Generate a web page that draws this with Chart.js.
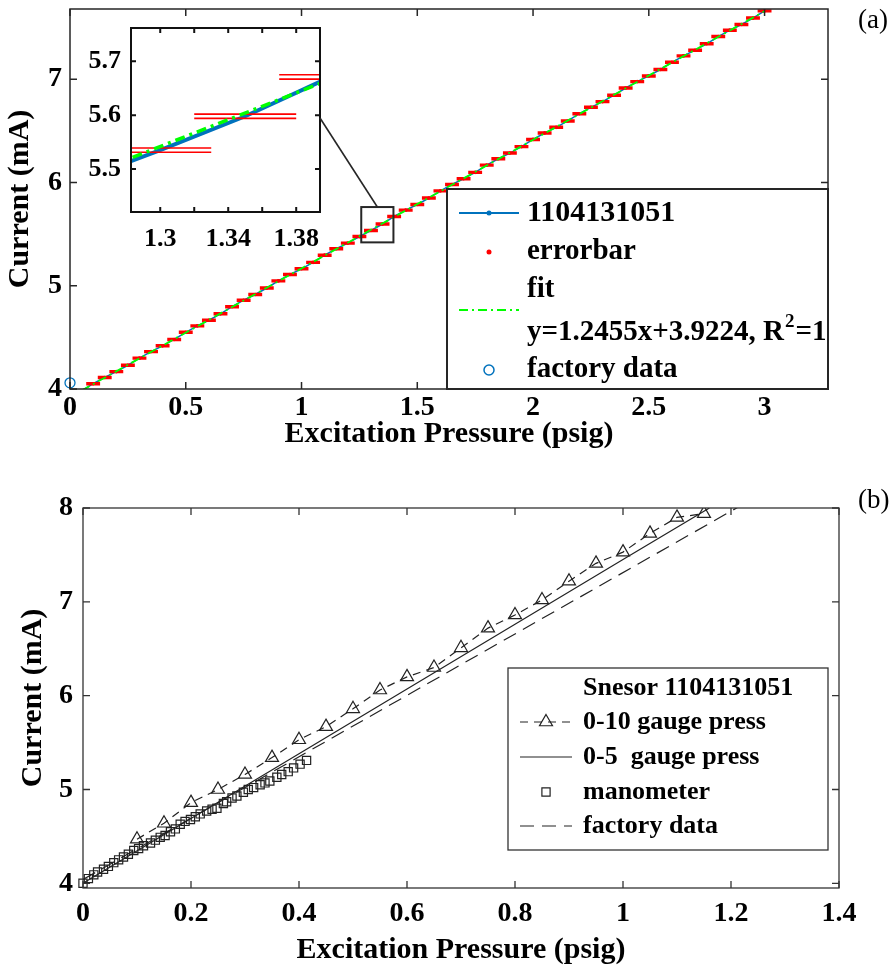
<!DOCTYPE html>
<html>
<head>
<meta charset="utf-8">
<title>Current vs Excitation Pressure</title>
<script src="https://cdn.jsdelivr.net/npm/chart.js@4.4.1/dist/chart.umd.min.js"></script>
<style>
  html, body { margin: 0; padding: 0; background: #ffffff; }
  #fig { position: relative; width: 895px; height: 975px; overflow: hidden; background: #ffffff; }
  #fig canvas { position: absolute; }
  .tag { position: absolute; font-family: "Liberation Serif", "Times New Roman", serif; font-size: 27px; color: #000; line-height: 1; }
</style>
</head>
<body>
<div id="fig">
  <canvas id="chartA" width="895" height="455" style="left:0;top:0;width:895px;height:455px"></canvas>
  <canvas id="chartInset" width="340" height="260" style="left:70px;top:15px;width:340px;height:260px"></canvas>
  <canvas id="chartB" width="895" height="520" style="left:0;top:455px;width:895px;height:520px"></canvas>
  <div class="tag" style="left:858px;top:6px">(a)</div>
  <div class="tag" style="left:858px;top:486px">(b)</div>
</div>
<script>
// ===================== DATA : panel (a) =====================
const pressureA = [0.05,0.10,0.15,0.20,0.25,0.30,0.35,0.40,0.45,0.50,
                   0.55,0.60,0.65,0.70,0.75,0.80,0.85,0.90,0.95,1.00,
                   1.05,1.10,1.15,1.20,1.25,1.30,1.35,1.40,1.45,1.50,
                   1.55,1.60,1.65,1.70,1.75,1.80,1.85,1.90,1.95,2.00,
                   2.05,2.10,2.15,2.20,2.25,2.30,2.35,2.40,2.45,2.50,
                   2.55,2.60,2.65,2.70,2.75,2.80,2.85,2.90,2.95,3.00];
const currentA = [3.982,4.051,4.112,4.168,4.230,4.299,4.362,4.418,4.480,4.549,
                  4.611,4.666,4.728,4.797,4.860,4.915,4.978,5.047,5.109,5.164,
                  5.226,5.296,5.358,5.413,5.476,5.535,5.598,5.671,5.732,5.787,
                  5.849,5.919,5.981,6.036,6.098,6.168,6.230,6.285,6.347,6.417,
                  6.479,6.534,6.596,6.666,6.728,6.783,6.845,6.915,6.977,7.032,
                  7.094,7.164,7.226,7.281,7.343,7.413,7.475,7.530,7.592,7.662];
const errXA = 0.03;     // half width of the error bars (psig)
const errYA = 0.004;    // half height of the error bars (mA)
const fitX = [0.05, 3.00];
const fitY = [3.985, 7.659];
const factoryAX = [0];
const factoryAY = [4.06];
const xTicksA = [0, 0.5, 1, 1.5, 2, 2.5, 3];
const xTickLabelsA = ['0', '0.5', '1', '1.5', '2', '2.5', '3'];
const yTicksA = [4, 5, 6, 7];
const yTickLabelsA = ['4', '5', '6', '7'];
const insetXTicks = [1.30, 1.32, 1.34, 1.36, 1.38];
const insetXLabels = ['1.3', '', '1.34', '', '1.38'];
const insetYTicks = [5.5, 5.6, 5.7];
const insetYLabels = ['5.5', '5.6', '5.7'];
const legendTextA = ['1104131051', 'errorbar', 'fit', 'y=1.2455x+3.9224, R', '2', '=1', 'factory data'];

// ===================== DATA : panel (b) =====================
const gauge10X = [0.10,0.15,0.20,0.25,0.30,0.35,0.40,0.45,0.50,0.55,0.60,
                  0.65,0.70,0.75,0.80,0.85,0.90,0.95,1.00,1.05,1.10,1.15];
const gauge10Y = [4.47,4.64,4.86,5.00,5.16,5.34,5.53,5.67,5.86,6.06,6.20,
                  6.30,6.51,6.72,6.86,7.02,7.22,7.41,7.53,7.73,7.90,7.94];
const gauge5X = [0, 0.2, 0.4, 0.6, 0.8, 1.0, 1.16];
const gauge5Y = [4.00, 4.69, 5.38, 6.07, 6.76, 7.45, 8.00];
const manoX = [0.000,0.010,0.020,0.027,0.038,0.047,0.057,0.066,0.075,0.084,0.094,
               0.103,0.112,0.125,0.134,0.143,0.152,0.162,0.171,0.180,0.189,0.199,
               0.208,0.217,0.229,0.239,0.248,0.260,0.266,0.276,0.285,0.297,0.306,
               0.316,0.328,0.337,0.346,0.359,0.368,0.380,0.390,0.402,0.414];
const manoY = [4.00,4.05,4.09,4.12,4.15,4.18,4.22,4.25,4.28,4.31,4.35,
               4.37,4.40,4.43,4.46,4.49,4.51,4.55,4.58,4.63,4.66,4.68,
               4.71,4.74,4.77,4.79,4.80,4.85,4.87,4.91,4.93,4.97,5.00,
               5.02,5.05,5.07,5.09,5.13,5.16,5.19,5.23,5.27,5.31];
const factoryBX = [0, 1.25];
const factoryBY = [4.04, 8.13];
const xTicksB = [0, 0.2, 0.4, 0.6, 0.8, 1, 1.2, 1.4];
const xTickLabelsB = ['0', '0.2', '0.4', '0.6', '0.8', '1', '1.2', '1.4'];
const yTicksB = [4, 5, 6, 7, 8];
const yTickLabelsB = ['4', '5', '6', '7', '8'];
const legendTextB = ['Snesor 1104131051', '0-10 gauge press', '0-5  gauge press', 'manometer', 'factory data'];

// ===================== helpers =====================
const SERIF = '"Liberation Serif", "Times New Roman", serif';
Chart.defaults.font.family = SERIF;
Chart.defaults.color = '#000';
Chart.defaults.animation = false;

const INSET_LEFT = 70, INSET_TOP = 15;
const zoomBoxX = [1.258, 1.397];
const zoomBoxY = [5.42, 5.762];

function pts(xs, ys) { return xs.map((x, i) => ({ x: x, y: ys[i] })); }

function axis(o) {
  return {
    type: 'linear', min: o.min, max: o.max, position: o.position,
    afterBuildTicks: s => { s.ticks = o.ticks.map(v => ({ value: v })); },
    afterFit: s => {
      if (o.position === 'left') s.width = o.size; else s.height = o.size;
      s.paddingTop = 0; s.paddingBottom = 0; s.paddingLeft = 0; s.paddingRight = 0;
    },
    grid: { display: false, drawTicks: false },
    border: { display: false },
    ticks: {
      autoSkip: false, maxRotation: 0, minRotation: 0, padding: o.pad, color: '#000',
      font: { family: SERIF, size: o.fontSize, weight: 'bold' },
      callback: (v, i) => o.labels[i]
    },
    title: o.title ? {
      display: true, text: o.title, color: '#000',
      font: { family: SERIF, size: o.titleSize, weight: 'bold', lineHeight: 1.2 },
      padding: o.titlePad
    } : { display: false }
  };
}

function txt(ctx, s, x, y, size) {
  ctx.font = 'bold ' + size + 'px ' + SERIF;
  ctx.textBaseline = 'middle';
  ctx.textAlign = 'left';
  ctx.fillStyle = '#000';
  ctx.fillText(s, x, y);
  return ctx.measureText(s).width;
}

// axes box with inward ticks on all four sides (MATLAB style)
const boxPlugin = {
  id: 'box',
  afterDatasetsDraw(chart, args, o) {
    const { ctx, chartArea: a, scales } = chart;
    const L = o.len;
    ctx.save();
    ctx.strokeStyle = o.color;
    ctx.lineWidth = o.width;
    ctx.setLineDash([]);
    ctx.beginPath();
    scales.x.ticks.forEach(t => {
      const p = scales.x.getPixelForValue(t.value);
      ctx.moveTo(p, a.bottom); ctx.lineTo(p, a.bottom - L);
      ctx.moveTo(p, a.top); ctx.lineTo(p, a.top + L);
    });
    scales.y.ticks.forEach(t => {
      const p = scales.y.getPixelForValue(t.value);
      ctx.moveTo(a.left, p); ctx.lineTo(a.left + L, p);
      ctx.moveTo(a.right, p); ctx.lineTo(a.right - L, p);
    });
    ctx.stroke();
    ctx.strokeRect(a.left, a.top, a.right - a.left, a.bottom - a.top);
    ctx.restore();
  }
};

// horizontal error-bar pairs for one dataset
const errPlugin = {
  id: 'errbars',
  afterDatasetDraw(chart, args, o) {
    if (args.index !== o.index) return;
    const { ctx, chartArea: a, scales: { x, y } } = chart;
    const data = chart.data.datasets[o.index].data;
    ctx.save();
    ctx.beginPath();
    ctx.rect(a.left, a.top, a.right - a.left, a.bottom - a.top);
    ctx.clip();
    ctx.strokeStyle = o.color;
    ctx.lineWidth = o.width;
    ctx.beginPath();
    data.forEach(p => {
      const x1 = x.getPixelForValue(p.x - o.xErr), x2 = x.getPixelForValue(p.x + o.xErr);
      [p.y - o.yErr, p.y + o.yErr].forEach(v => {
        const py = y.getPixelForValue(v);
        ctx.moveTo(x1, py); ctx.lineTo(x2, py);
      });
    });
    ctx.stroke();
    ctx.restore();
  }
};

// zoom rectangle on panel (a)
const zoomRectPlugin = {
  id: 'zoomRect',
  afterDatasetsDraw(chart) {
    const { ctx, scales: { x, y } } = chart;
    const x1 = x.getPixelForValue(zoomBoxX[0]), x2 = x.getPixelForValue(zoomBoxX[1]);
    const y1 = y.getPixelForValue(zoomBoxY[1]), y2 = y.getPixelForValue(zoomBoxY[0]);
    ctx.save();
    ctx.strokeStyle = '#262626';
    ctx.lineWidth = 2;
    ctx.strokeRect(x1, y1, x2 - x1, y2 - y1);
    ctx.restore();
  }
};

// legend of panel (a)
const legendAPlugin = {
  id: 'legendA',
  afterDraw(chart) {
    const { ctx, chartArea: a } = chart;
    const R = a.right, B = a.bottom, L = R - 381, T = B - 200;
    const fs = 29;
    ctx.save();
    ctx.fillStyle = '#fff';
    ctx.fillRect(L, T, R - L, B - T);
    ctx.strokeStyle = '#262626';
    ctx.lineWidth = 2;
    ctx.strokeRect(L, T, R - L, B - T);
    const sx1 = L + 12, sx2 = L + 72, mx = L + 42, tx = L + 80;
    const dsBlue = chart.data.datasets[2], dsErr = chart.data.datasets[1], dsFit = chart.data.datasets[0];
    // row 1
    let yy = T + 24;
    ctx.strokeStyle = dsBlue.borderColor; ctx.lineWidth = 1.8; ctx.setLineDash([]);
    ctx.beginPath(); ctx.moveTo(sx1, yy); ctx.lineTo(sx2, yy); ctx.stroke();
    ctx.fillStyle = dsBlue.borderColor; ctx.beginPath(); ctx.arc(mx, yy, 2.5, 0, Math.PI * 2); ctx.fill();
    txt(ctx, legendTextA[0], tx, yy, fs + 1);
    // row 2
    yy = T + 63;
    ctx.fillStyle = dsErr.pointBackgroundColor; ctx.beginPath(); ctx.arc(mx, yy, 2.5, 0, Math.PI * 2); ctx.fill();
    txt(ctx, legendTextA[1], tx, yy, fs);
    // row 3 : fit (two lines of text)
    txt(ctx, legendTextA[2], tx, T + 101, fs);
    yy = T + 121;
    ctx.strokeStyle = dsFit.borderColor; ctx.lineWidth = 1.8; ctx.setLineDash([9, 4, 2, 4]);
    ctx.beginPath(); ctx.moveTo(sx1, yy); ctx.lineTo(sx2, yy); ctx.stroke();
    ctx.setLineDash([]);
    yy = T + 144;
    let w = txt(ctx, legendTextA[3], tx, yy, fs);
    let w2 = txt(ctx, legendTextA[4], tx + w + 1, yy - 11, 19);
    txt(ctx, legendTextA[5], tx + w + w2 + 2, yy, fs);
    // row 5
    yy = T + 181;
    ctx.strokeStyle = '#0072bd'; ctx.lineWidth = 1.5;
    ctx.beginPath(); ctx.arc(mx, yy, 5, 0, Math.PI * 2); ctx.stroke();
    txt(ctx, legendTextA[6], tx, yy, fs);
    ctx.restore();
  }
};

// ===================== CHART (a) =====================
const chartA = new Chart(document.getElementById('chartA'), {
  type: 'scatter',
  data: {
    datasets: [
      { label: 'fit', data: pts(fitX, fitY), showLine: true, borderColor: '#00ff00', borderWidth: 1.8,
        borderDash: [9, 4, 2, 4], pointRadius: 0, fill: false },
      { label: 'errorbar', data: pts(pressureA, currentA), showLine: false, pointRadius: 1.8,
        pointBackgroundColor: '#ff0000', pointBorderWidth: 0 },
      { label: '1104131051', data: pts(pressureA, currentA), showLine: true, borderColor: '#0072bd',
        borderWidth: 1.5, pointRadius: 1.4, pointBackgroundColor: '#0072bd', pointBorderWidth: 0 },
      { label: 'factory data', data: pts(factoryAX, factoryAY), showLine: false, pointRadius: 5,
        pointBorderColor: '#0072bd', pointBackgroundColor: 'rgba(0,0,0,0)', pointBorderWidth: 1.3, clip: false }
    ]
  },
  options: {
    responsive: false, animation: false, events: [],
    layout: { padding: { left: 0, top: 9, right: 67, bottom: 0 } },
    plugins: {
      legend: { display: false }, tooltip: { enabled: false },
      box: { len: 7, width: 1.5, color: '#262626' },
      errbars: { index: 1, xErr: errXA, yErr: errYA, color: '#ff0000', width: 2.6 }
    },
    scales: {
      x: axis({ min: 0, max: 3.274, position: 'bottom', ticks: xTicksA, labels: xTickLabelsA, size: 66,
                pad: 2, fontSize: 28, title: 'Excitation Pressure (psig)', titleSize: 30, titlePad: { top: 0, bottom: 3 } }),
      y: axis({ min: 4, max: 7.68, position: 'left', ticks: yTicksA, labels: yTickLabelsA, size: 70,
                pad: 8, fontSize: 28, title: 'Current (mA)', titleSize: 30, titlePad: { top: 2, bottom: 0 } })
    }
  },
  plugins: [boxPlugin, errPlugin, zoomRectPlugin, legendAPlugin]
});

// ===================== INSET =====================
const insetPlugin = {
  id: 'insetDeco',
  beforeDatasetsDraw(chart) {
    const { ctx, chartArea: a } = chart;
    ctx.save(); ctx.fillStyle = '#fff';
    ctx.fillRect(a.left, a.top, a.right - a.left, a.bottom - a.top);
    ctx.restore();
  },
  afterDraw(chart) {
    const { ctx, chartArea: a } = chart;
    const tx = chartA.scales.x.getPixelForValue((zoomBoxX[0] + zoomBoxX[1]) / 2) - INSET_LEFT;
    const ty = chartA.scales.y.getPixelForValue(zoomBoxY[1]) - INSET_TOP;
    ctx.save();
    ctx.strokeStyle = '#262626'; ctx.lineWidth = 1.6;
    ctx.beginPath(); ctx.moveTo(a.right, (a.top + a.bottom) / 2 - 2); ctx.lineTo(tx, ty); ctx.stroke();
    ctx.restore();
  }
};

const chartInset = new Chart(document.getElementById('chartInset'), {
  type: 'scatter',
  data: {
    datasets: [
      { label: 'fit', data: pts(fitX, fitY), showLine: true, borderColor: '#00ff00', borderWidth: 3.5,
        borderDash: [10, 5, 3, 5], pointRadius: 0 },
      { label: 'errorbar', data: pts(pressureA, currentA), showLine: false, pointRadius: 0 },
      { label: '1104131051', data: pts(pressureA, currentA), showLine: true, borderColor: '#0072bd',
        borderWidth: 4, pointRadius: 0 }
    ]
  },
  options: {
    responsive: false, animation: false, events: [],
    layout: { padding: { left: 0, top: 13, right: 90, bottom: 0 } },
    plugins: {
      legend: { display: false }, tooltip: { enabled: false },
      box: { len: 5, width: 2, color: '#111' },
      errbars: { index: 1, xErr: errXA, yErr: errYA, color: '#ff0000', width: 1.6 }
    },
    scales: {
      x: axis({ min: 1.2828, max: 1.394, position: 'bottom', ticks: insetXTicks, labels: insetXLabels, size: 63,
                pad: 12, fontSize: 26 }),
      y: axis({ min: 5.42, max: 5.762, position: 'left', ticks: insetYTicks, labels: insetYLabels, size: 61,
                pad: 10, fontSize: 26 })
    }
  },
  plugins: [insetPlugin, errPlugin, boxPlugin]
});

// ===================== CHART (b) =====================
const legendBPlugin = {
  id: 'legendB',
  afterDraw(chart) {
    const { ctx, chartArea: a } = chart;
    const R = a.right - 11, B = a.bottom - 38, L = R - 320, T = B - 182;
    const fs = 26;
    ctx.save();
    ctx.fillStyle = '#fff';
    ctx.fillRect(L, T, R - L, B - T);
    ctx.strokeStyle = '#333';
    ctx.lineWidth = 1.3;
    ctx.strokeRect(L, T, R - L, B - T);
    const sx1 = L + 12, sx2 = L + 64, mx = L + 38, tx = L + 75;
    txt(ctx, legendTextB[0], tx, T + 20, fs);
    // 0-10
    let yy = T + 54;
    ctx.strokeStyle = '#222'; ctx.lineWidth = 1.2; ctx.setLineDash([8, 6]);
    ctx.beginPath(); ctx.moveTo(sx1, yy); ctx.lineTo(sx2, yy); ctx.stroke();
    ctx.setLineDash([]);
    ctx.fillStyle = 'rgba(0,0,0,0)';
    Chart.helpers.drawPoint(ctx, { pointStyle: 'triangle', radius: 7.5, borderWidth: 1.2, rotation: 0 }, mx, yy);
    txt(ctx, legendTextB[1], tx, yy, fs);
    // 0-5
    yy = T + 89;
    ctx.strokeStyle = '#222'; ctx.lineWidth = 1.2;
    ctx.beginPath(); ctx.moveTo(sx1, yy); ctx.lineTo(sx2, yy); ctx.stroke();
    txt(ctx, legendTextB[2], tx, yy, fs);
    // manometer
    yy = T + 124;
    ctx.strokeStyle = '#222'; ctx.fillStyle = 'rgba(0,0,0,0)';
    Chart.helpers.drawPoint(ctx, { pointStyle: 'rect', radius: 5.8, borderWidth: 1.2, rotation: 0 }, mx, yy);
    txt(ctx, legendTextB[3], tx, yy, fs);
    // factory
    yy = T + 158;
    ctx.strokeStyle = '#222'; ctx.lineWidth = 1.2; ctx.setLineDash([14, 8]);
    ctx.beginPath(); ctx.moveTo(sx1, yy); ctx.lineTo(sx2, yy); ctx.stroke();
    ctx.setLineDash([]);
    txt(ctx, legendTextB[4], tx, yy, fs);
    ctx.restore();
  }
};

const chartB = new Chart(document.getElementById('chartB'), {
  type: 'scatter',
  data: {
    datasets: [
      { label: '0-10 gauge press', data: pts(gauge10X, gauge10Y), showLine: true, borderColor: '#222',
        borderWidth: 1.2, borderDash: [8, 6], pointStyle: 'triangle', pointRadius: 7.5,
        pointBorderColor: '#222', pointBackgroundColor: 'rgba(0,0,0,0)', pointBorderWidth: 1.2 },
      { label: '0-5  gauge press', data: pts(gauge5X, gauge5Y), showLine: true, borderColor: '#222',
        borderWidth: 1.2, pointRadius: 0 },
      { label: 'manometer', data: pts(manoX, manoY), showLine: false, pointStyle: 'rect', pointRadius: 5.8,
        pointBorderColor: '#222', pointBackgroundColor: 'rgba(0,0,0,0)', pointBorderWidth: 1.2, clip: false },
      { label: 'factory data', data: pts(factoryBX, factoryBY), showLine: true, borderColor: '#222',
        borderWidth: 1.2, borderDash: [14, 8], pointRadius: 0 }
    ]
  },
  options: {
    responsive: false, animation: false, events: [],
    layout: { padding: { left: 0, top: 53, right: 56, bottom: 0 } },
    plugins: {
      legend: { display: false }, tooltip: { enabled: false },
      box: { len: 7, width: 1.3, color: '#333' }
    },
    scales: {
      x: axis({ min: 0, max: 1.4, position: 'bottom', ticks: xTicksB, labels: xTickLabelsB, size: 87,
                pad: 9, fontSize: 28, title: 'Excitation Pressure (psig)', titleSize: 30, titlePad: { top: 0, bottom: 7 } }),
      y: axis({ min: 3.95, max: 8, position: 'left', ticks: yTicksB, labels: yTickLabelsB, size: 83,
                pad: 10, fontSize: 28, title: 'Current (mA)', titleSize: 30, titlePad: { top: 15, bottom: 0 } })
    }
  },
  plugins: [boxPlugin, legendBPlugin]
});
</script>
</body>
</html>
